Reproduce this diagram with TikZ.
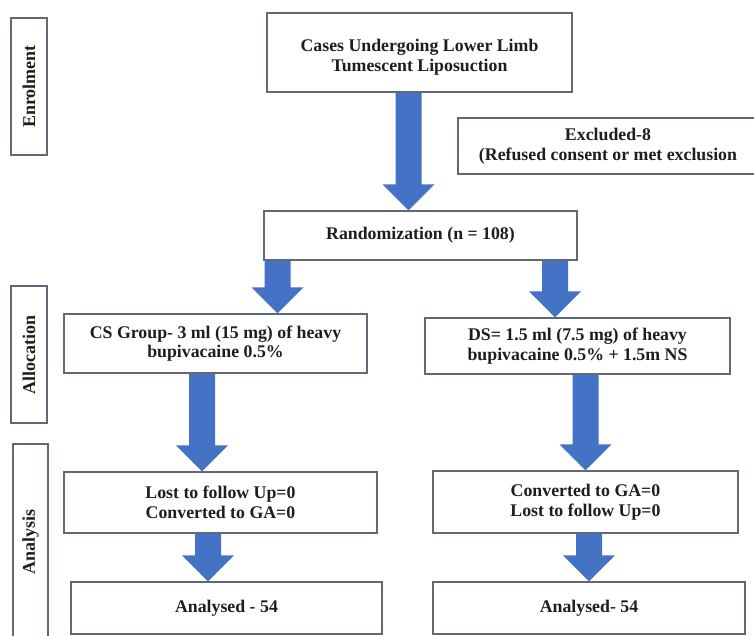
\documentclass[tikz,border=0pt]{standalone}
\usepackage{fontspec}
\setmainfont{Liberation Serif}
\usetikzlibrary{calc}
\definecolor{arrowblue}{RGB}{68,114,196}
\definecolor{boxline}{RGB}{95,105,120}
\definecolor{txt}{RGB}{30,30,30}
\tikzset{
 flowbox/.style={draw=boxline, line width=1.1pt, fill=white, align=center,
   font=\bfseries\fontsize{17.8}{19.5}\selectfont, text=txt, inner sep=0pt},
 sidebox/.style={draw=boxline, line width=1.1pt, fill=white, inner sep=0pt, rotate=90,
   font=\bfseries\fontsize{18}{19}\selectfont, text=txt},
}
\newcommand\blockarr[3]{%
 \fill[arrowblue] let \p1=(#2.south), \p2=(#3.north) in
 (#1pt-13pt,\y1-0.6pt) -- (#1pt-13pt,\y2+26pt) -- (#1pt-26pt,\y2+26pt) -- (#1pt,\y2)
 -- (#1pt+26pt,\y2+26pt) -- (#1pt+13pt,\y2+26pt) -- (#1pt+13pt,\y1-0.6pt) -- cycle;}
\begin{document}
\begin{tikzpicture}[x=1pt,y=-1pt]
\useasboundingbox (0,0) rectangle (754,635);
\clip (0,0) rectangle (754,635);
\fill[white] (0,0) rectangle (754,635);
% side labels
\node[sidebox, minimum width=137, minimum height=36] (enrol) at (29,86.5) {Enrolment};
\node[sidebox, minimum width=137, minimum height=36] (alloc) at (29,354.5) {Allocation};
\node[sidebox, minimum width=196, minimum height=35] (anal) at (30.5,542) {Analysis};
% boxes
\node[flowbox, minimum width=305, minimum height=79] (top) at (419.5,52.5)
  {\rule{0pt}{22pt}Cases Undergoing Lower Limb\\Tumescent Liposuction};
\node[flowbox, minimum width=300, minimum height=56] (excl) at (608,146)
  {Excluded-8\\(Refused consent or met exclusion};
\node[flowbox, minimum width=313, minimum height=49] (rand) at (420.5,235.5)
  {Randomization (n = 108)};
\node[flowbox, minimum width=303, minimum height=59] (cs) at (215.5,343.5)
  {CS Group- 3 ml (15 mg) of heavy\\bupivacaine 0.5\%};
\node[flowbox, minimum width=305, minimum height=56] (ds) at (577.5,346)
  {DS= 1.5 ml (7.5 mg) of heavy\\bupivacaine 0.5\% + 1.5m NS};
\node[flowbox, minimum width=313, minimum height=61] (lost) at (220.5,502.5)
  {Lost to follow Up=0\\Converted to GA=0};
\node[flowbox, minimum width=305, minimum height=62] (conv) at (585.5,502)
  {Converted to GA=0\\Lost to follow Up=0};
\node[flowbox, minimum width=311, minimum height=52] (an1) at (226.5,608)
  {Analysed - 54};
\node[flowbox, minimum width=312, minimum height=52] (an2) at (589,608)
  {Analysed- 54};
% block arrows
\blockarr{408.5}{top}{rand}
\blockarr{277.5}{rand}{cs}
\blockarr{555}{rand}{ds}
\blockarr{202}{cs}{lost}
\blockarr{585.5}{ds}{conv}
\blockarr{208}{lost}{an1}
\blockarr{589}{conv}{an2}
\end{tikzpicture}
\end{document}
